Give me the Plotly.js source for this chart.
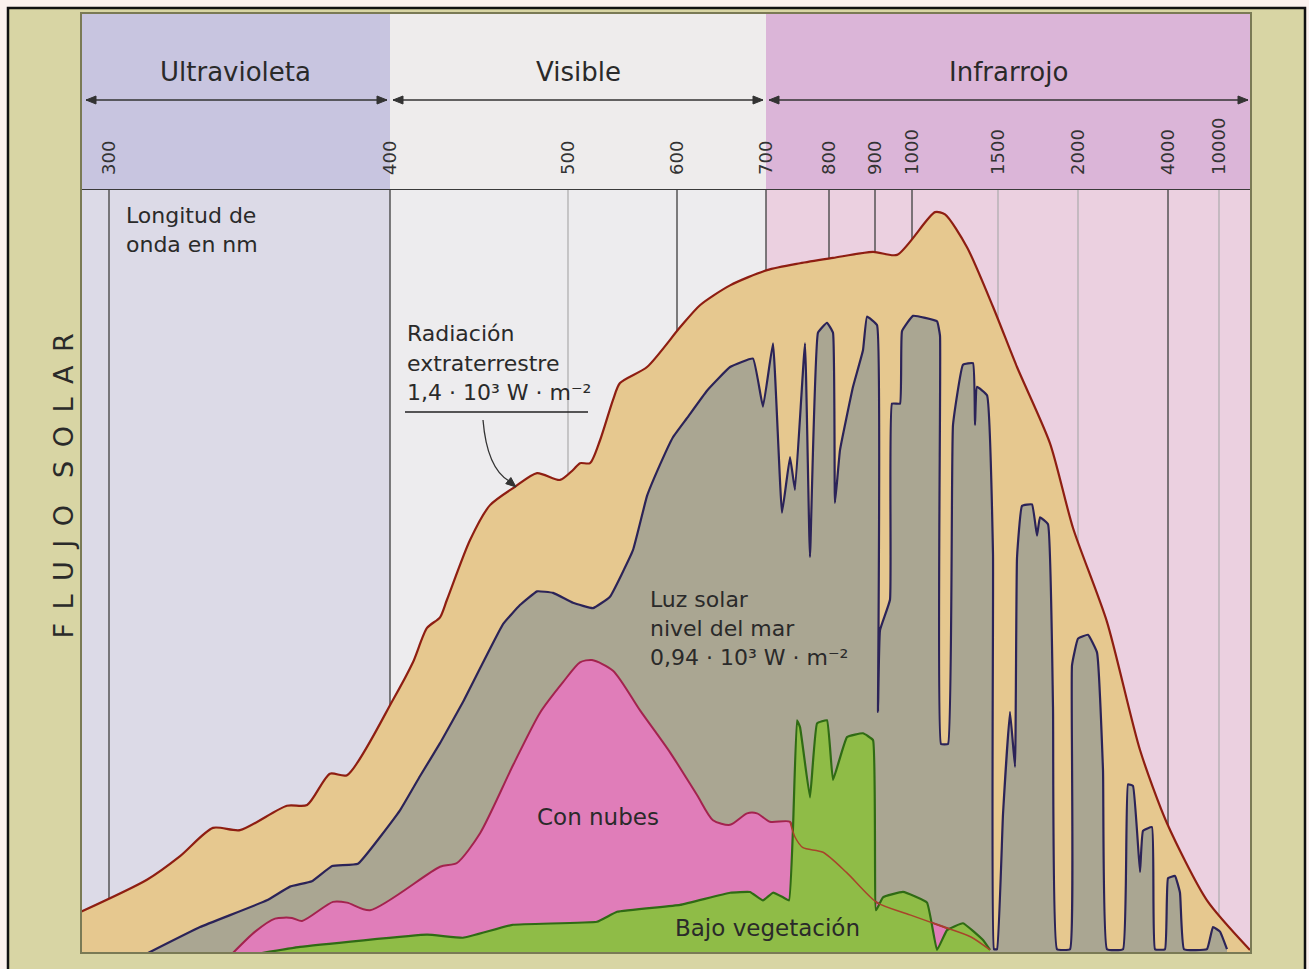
<!DOCTYPE html>
<html><head><meta charset="utf-8">
<script src="https://cdn.plot.ly/plotly-3.0.1.min.js"></script>
<style>html,body{margin:0;padding:0;background:#FBF1EE;} #chart{width:1309px;height:969px;}</style>
</head><body><div id="chart"></div>
<script>
// ---- wavelength axis (piecewise scale as printed in the figure) ----
const tickWavelengths = [300,400,500,600,700,800,900,1000,1500,2000,4000,10000];
const tickLabels = ['300','400','500','600','700','800','900','1000','1500','2000','4000','10000'];
const scalePos = [28,309,487,596,685,748,794,831,917,997,1087,1138];
const darkGridNm = [300,400,600,700,800,900,1000,4000];
const lightGridNm = [500,1500,2000,10000];

const bandNames = ['Ultravioleta','Visible','Infrarrojo'];
const bandLimitsNm = [400,700];

// ---- series (wavelength in nm, flux in arbitrary units) ----
const extraNm = [290,313.5,325.3,337,346.6,363.3,370.5,378.6,384.7,401.7,412.9,420.8,428.1,432,444.9,456.2,470.2,482.6,495.5,504.6,511,520.2,529.4,541.3,547.7,572.5,603.4,625.8,659.6,701.6,754,808.7,895.7,959.5,1133.7,1191.9,1319.8,1470.9,1618.8,1825,1968.8,2644,3378,3978,8586,13643];
const extraFlux = [5.4,9.6,12.7,16.4,16.1,19.3,19.4,23.5,23.3,33.2,38.1,42.6,44.0,46.3,54.1,58.7,61.1,62.9,62.0,63.3,64.2,64.2,67.2,72.5,74.7,76.8,82.0,84.9,87.5,89.5,90.4,91.1,91.9,91.5,97.1,96.8,92.5,84.7,76.8,66.8,55.7,43.4,26.6,17.0,6.9,0.4];

const seaNm = [313.9,332.4,356.2,364.4,372.2,379.4,388.6,405.6,416.9,428.1,441,463.5,473,482.6,491.6,504.6,522.9,538.5,559.6,572.5,584.4,596.3,611.2,633.7,659.6,685.4,696.6,711.1,725.4,738.1,746,761.9,769.8,782.5,796.8,808.7,813,823.9,852.2,873.9,882.6,905.4,908.1,913.5,940.5,945.9,967.6,973,1005.8,1145.3,1162.8,1168.6,1209.5,1238.4,1296.5,1354.7,1366.3,1377.9,1436.1,1470.9,1476.7,1494.2,1531.3,1575,1606.3,1618.8,1650,1712.5,1743.8,1762.5,1812.5,1843.8,1868.8,1950,1962.5,2000,2222,2422,2556,2644,3000,3111,3222,3378,3444,3644,3711,3933,4000,4823,5411,5882,8586,9292,10117,10940];
const seaFlux = [0,3.4,6.9,8.7,9.4,11.4,11.7,18.7,23.2,27.5,32.9,43.1,45.6,47.4,47.2,45.9,45.2,46.7,52.8,59.9,64.0,67.6,70.1,73.7,76.8,77.9,71.6,79.9,57.7,65.0,60.7,79.9,51.9,81.3,82.6,81.3,59.0,65.9,74.2,79.0,83.4,82.3,31.6,42.3,46.3,72.0,72.0,81.5,83.5,82.8,80.9,27.4,27.4,69.2,77.1,77.3,69.2,74.2,73.1,52.4,0.5,0.5,18.2,31.6,24.4,51.8,58.6,58.8,54.7,57.1,56.2,32.2,0.5,0.5,37.7,41.2,41.7,39.4,23.9,0.5,0.5,22.1,21.9,10.6,16.0,16.5,0.5,0.5,9.8,10.1,7.9,0.5,0.5,3.4,2.8,0.5];

const cloudNm = [344.1,352,359.1,365.1,368.7,379.7,384.7,392.9,428.1,437.6,450.6,469.1,484.3,497.2,511,522,541.3,566.1,593.6,622.5,640.4,659.6,678.7,689.9,706.3,738.1,746,758.7,790.5,839.1,905.4,994.6,1186,1343,1453.5];
const cloudFlux = [0,2.8,4.5,4.6,4.2,6.7,6.6,5.6,11.3,11.8,15.7,24.6,31.5,35.5,38.1,38.4,37.0,31.8,26.3,20.7,17.4,16.8,18.3,18.3,17.2,17.2,15.2,13.8,13.2,10.5,6.6,5.0,3.4,2.1,0.4];

const vegNm = [354.4,368,420.8,441,469.1,526.6,545,603.4,659.6,682,696.6,711.1,727,736.5,742.9,749.2,754,769.8,781,796.8,808.7,839.1,873.9,895.7,902.7,921.6,975.7,1087.2,1145.3,1203.5,1296.5,1412.8,1453.5];
const vegFlux = [0,0.8,2.4,2.0,3.7,4.1,5.4,6.3,7.9,8.0,6.9,7.9,7.3,6.9,16.5,30.5,29.6,20.4,30.1,30.5,22.7,28.3,28.8,27.9,5.6,7.3,8.0,6.6,0.4,3.0,3.9,1.7,0.4];

// ---- layout geometry helpers ----
const W = 1309, H = 969;
const M = {l:81, r:58, t:13, b:16};
const PW = W - M.l - M.r, PH = H - M.t - M.b;
const px = v => (v - M.l) / PW;
const py = v => (H - M.b - v) / PH;
const bandTop = py(190);

function toAxis(nm){
  const n = tickWavelengths.length;
  let i = 0;
  while (i < n - 2 && nm > tickWavelengths[i + 1]) i++;
  const t = (nm - tickWavelengths[i]) / (tickWavelengths[i + 1] - tickWavelengths[i]);
  return scalePos[i] + t * (scalePos[i + 1] - scalePos[i]);
}
const X = a => a.map(toAxis);

const bandEdges = [0, ...bandLimitsNm.map(toAxis), PW];
const bandTopColors = ['#C8C5E0', '#EEECEC', '#DBB5D8'];
const bandLowColors = ['#DCDAE7', '#EDECEE', '#EBD0E0'];

const hiStart = cloudNm.findIndex(v => v >= 738);

const traces = [
  {x: X(extraNm), y: extraFlux, type:'scatter', mode:'lines', fill:'tozeroy', fillcolor:'#E6C88F', line:{color:'#8E1E12', width:2.2, shape:'spline', smoothing:0.7}, hoverinfo:'skip'},
  {x: X(seaNm), y: seaFlux, type:'scatter', mode:'lines', fill:'tozeroy', fillcolor:'#AAA692', line:{color:'#2B2358', width:2.2, shape:'spline', smoothing:0.3}, hoverinfo:'skip'},
  {x: X(cloudNm), y: cloudFlux, type:'scatter', mode:'lines', fill:'tozeroy', fillcolor:'#E07DB9', line:{color:'#A3234E', width:2, shape:'spline', smoothing:0.7}, hoverinfo:'skip'},
  {x: X(vegNm), y: vegFlux, type:'scatter', mode:'lines', fill:'tozeroy', fillcolor:'#8FBC47', line:{color:'#2F6B14', width:2.2, shape:'spline', smoothing:0.3}, hoverinfo:'skip'},
  {x: X(cloudNm.slice(hiStart)), y: cloudFlux.slice(hiStart), type:'scatter', mode:'lines', line:{color:'#A8442A', width:1.5, shape:'spline', smoothing:0.7}, hoverinfo:'skip'}
];

const shapes = [
  {type:'rect', xref:'paper', yref:'paper', x0:px(8), x1:px(1305), y0:py(1000), y1:py(8), fillcolor:'#D8D5A4', line:{color:'#111', width:2.5}, layer:'below'}
];
for (let i = 0; i < 3; i++) {
  shapes.push({type:'rect', xref:'x', yref:'paper', x0:bandEdges[i], x1:bandEdges[i+1], y0:bandTop, y1:1, fillcolor:bandTopColors[i], line:{width:0}, layer:'below'});
  shapes.push({type:'rect', xref:'x', yref:'paper', x0:bandEdges[i], x1:bandEdges[i+1], y0:0, y1:bandTop, fillcolor:bandLowColors[i], line:{width:0}, layer:'below'});
}
// wavelength grid lines (below the curves, above the band backgrounds)
darkGridNm.forEach(nm => shapes.push({type:'line', xref:'x', yref:'paper', x0:toAxis(nm), x1:toAxis(nm), y0:0, y1:bandTop, line:{color:'#4a4a4a', width:1.4}, layer:'below'}));
lightGridNm.forEach(nm => shapes.push({type:'line', xref:'x', yref:'paper', x0:toAxis(nm), x1:toAxis(nm), y0:0, y1:bandTop, line:{color:'#ABABAB', width:1.2}, layer:'below'}));

shapes.push({type:'rect', xref:'paper', yref:'paper', x0:0, x1:1, y0:0, y1:1, line:{color:'#7A7A55', width:2}, layer:'above'});

// band arrows (line + two filled heads)
const arrowY = py(100), headL = 10, headH = 4;
function head(tipPx, tipPy, dirX, dirY){
  const bx = tipPx - dirX*headL, by = tipPy - dirY*headL;
  const nx = -dirY*headH, ny = dirX*headH;
  return {type:'path', xref:'paper', yref:'paper', layer:'above', fillcolor:'#333', line:{color:'#333', width:1},
    path:`M ${px(tipPx)},${py(tipPy)} L ${px(bx+nx)},${py(by+ny)} L ${px(bx-nx)},${py(by-ny)} Z`};
}
for (let i = 0; i < 3; i++) {
  const a0 = bandEdges[i] + (i === 0 ? 5 : 3) + M.l;
  const a1 = bandEdges[i+1] - 3 + M.l;
  shapes.push({type:'line', xref:'paper', yref:'paper', x0:px(a0), x1:px(a1), y0:arrowY, y1:arrowY, line:{color:'#333', width:1.5}, layer:'above'});
  shapes.push(head(a0, 100, -1, 0));
  shapes.push(head(a1, 100, 1, 0));
}
// underline and pointer of the extraterrestrial label
shapes.push({type:'line', xref:'paper', yref:'paper', x0:px(405), x1:px(588), y0:py(412), y1:py(412), line:{color:'#222', width:1.5}, layer:'above'});
shapes.push({type:'path', xref:'paper', yref:'paper', path:`M ${px(483)},${py(420)} Q ${px(487)},${py(468)} ${px(509)},${py(481)}`, line:{color:'#333', width:1.3}, layer:'above'});
shapes.push(head(516, 487, 0.768, 0.640));

const txt = {family:'DejaVu Sans, sans-serif', color:'#2a2a2a'};
const annotations = [];
function label(text, xPx, yPx, size, xanchor){
  annotations.push({xref:'paper', yref:'paper', x:px(xPx), y:py(yPx), text:text, showarrow:false, xanchor:xanchor||'left', yanchor:'middle', font:Object.assign({size:size}, txt)});
}
for (let i = 0; i < 3; i++) {
  annotations.push({xref:'x', yref:'paper', x:(bandEdges[i]+bandEdges[i+1])/2, y:py(72), text:bandNames[i], showarrow:false, font:Object.assign({size:26}, txt), xanchor:'center', yanchor:'middle'});
}
annotations.push({xref:'paper', yref:'paper', x:px(45), y:py(486), text:'F\u2002L\u2002U\u2002J\u2002O\u2002\u2002S\u2002O\u2002L\u2002A\u2002R', textangle:-90, showarrow:false, font:Object.assign({size:27}, txt)});
label('Longitud de', 124, 216, 22);
label('onda en nm', 124, 244, 22);
label('Radiación', 405, 334, 22);
label('extraterrestre', 405, 363, 22);
label('1,4 · 10³ W · m⁻²', 405, 392, 22);
label('Luz solar', 648, 599, 22);
label('nivel del mar', 648, 628, 22);
label('0,94 · 10³ W · m⁻²', 648, 657, 22);
label('Con nubes', 598, 817, 23, 'center');
label('Bajo vegetación', 673, 928, 23);

const layout = {
  width:W, height:H, margin:{l:M.l, r:M.r, t:M.t, b:M.b, pad:0},
  paper_bgcolor:'#FBF1EE', plot_bgcolor:'rgba(0,0,0,0)', showlegend:false,
  font:{family:'DejaVu Sans, sans-serif', color:'#2a2a2a'},
  xaxis:{range:[0,PW], side:'top', anchor:'y', tickmode:'array', tickvals:X(tickWavelengths), ticktext:tickLabels, tickangle:-90, tickfont:{size:18, color:'#333'}, showgrid:false, zeroline:false, showline:true, linecolor:'#3a3a3a', linewidth:1.5, ticks:'', ticklabelstandoff:10, fixedrange:true},
  yaxis:{domain:[0, bandTop], range:[0,100], visible:false, fixedrange:true},
  shapes:shapes, annotations:annotations
};

Plotly.newPlot('chart', traces, layout, {staticPlot:true, displayModeBar:false});
</script>
</body></html>
